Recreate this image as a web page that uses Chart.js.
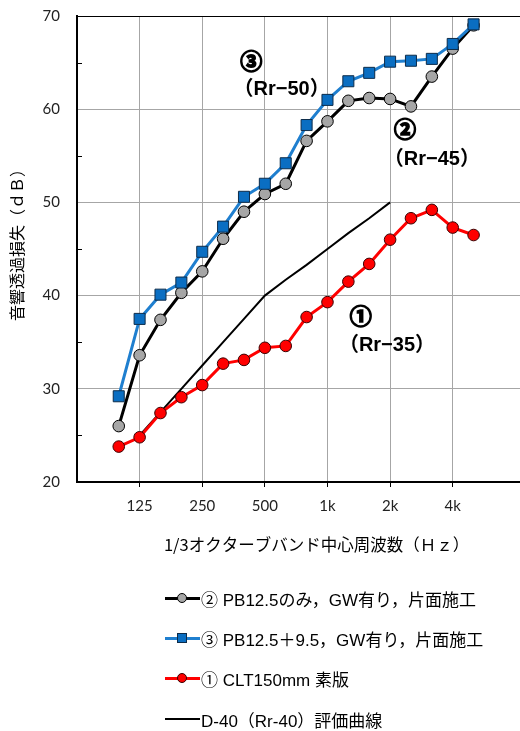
<!DOCTYPE html>
<html>
<head>
<meta charset="utf-8">
<script src="https://cdn.jsdelivr.net/npm/chart.js@4.4.1/dist/chart.umd.min.js"></script>
<style>
  html, body { margin: 0; padding: 0; background: #fff; width: 520px; height: 731px; overflow: hidden; }
  #wrap { position: absolute; left: 0; top: 0; width: 545px; height: 565px; }
  #legend { position: absolute; left: 0; top: 0; width: 520px; height: 731px; pointer-events: none; }
  .row { position: absolute; left: 165px; height: 22px; display: flex; align-items: center;
         font: 17px "Liberation Sans", "Noto Sans CJK JP", sans-serif; color: #000; white-space: pre; }
  .sample { position: relative; width: 35px; height: 22px; margin-right: 1px; flex: none; }
  .sample .ln { position: absolute; left: 0; right: 0; top: 9.5px; height: 3px; }
  .sample .mk { position: absolute; left: 12px; top: 6px; width: 8px; height: 8px; border: 1px solid #000; box-sizing: content-box; }
  .sample .mk.round { border-radius: 50%; }
</style>
</head>
<body>
<div id="wrap"><canvas id="chart"></canvas></div>
<div id="legend"></div>
<script>
// 1/3 octave band centre frequencies (x categories)
const bands = ['100','125','160','200','250','315','400','500','630','800','1k','1.25k','1.6k','2k','2.5k','3.15k','4k','5k'];
// bands that carry a tick label and a vertical grid line
const tickLabels = ['125','250','500','1k','2k','4k'];

// sound transmission loss per band, dB
const seriesPB125 = [26.0, 33.6, 37.4, 40.3, 42.6, 46.1, 49.0, 50.9, 52.0, 56.6, 58.7, 60.9, 61.2, 61.1, 60.3, 63.5, 66.5, 69.0];
const seriesPB125_95 = [29.2, 37.5, 40.1, 41.4, 44.7, 47.4, 50.6, 52.0, 54.2, 58.3, 61.0, 63.0, 63.9, 65.1, 65.2, 65.4, 67.0, 69.1];
const seriesCLT150 = [23.8, 24.8, 27.4, 29.1, 30.4, 32.7, 33.1, 34.4, 34.6, 37.7, 39.3, 41.5, 43.4, 46.0, 48.3, 49.2, 47.3, 46.5];
// D-40 rating curve, defined from 125 Hz to 2 kHz
const curveD40 = [null, 25, 27.5, 30, 32.5, 35, 37.5, 40, 41.7, 43.3, 45, 46.7, 48.3, 50, null, null, null, null];

const seriesNames = [
  '② PB12.5のみ，GW有り，片面施工',
  '③ PB12.5＋9.5，GW有り，片面施工',
  '① CLT150mm 素版',
  'D-40（Rr-40）評価曲線'
];

const axisTitleX = '1/3オクターブバンド中心周波数（Ｈｚ）';
const axisTitleY = '音響透過損失（ｄＢ）';

// in-plot rating notes: text, band position, dB position
const noteTexts = ['③', '（Rr−50）', '②', '（Rr−45）', '①', '（Rr−35）'];
const noteBand  = [6.35, 7.8, 13.72, 15.0, 11.6, 12.85];
const noteDb    = [65.2, 62.1, 57.9, 54.6, 37.9, 34.7];
const noteBig   = [true, false, true, false, true, false];

const toPoints = arr => arr.map((v, i) => ({ x: i, y: v }));

const GRID = '#a6a6a6';

const notesPlugin = {
  id: 'notes',
  afterDatasetsDraw(chart) {
    const { ctx, scales: { x, y } } = chart;
    ctx.save();
    ctx.fillStyle = '#000';
    ctx.strokeStyle = '#000';
    ctx.textAlign = 'center';
    ctx.textBaseline = 'middle';
    noteTexts.forEach((t, i) => {
      const px = x.getPixelForValue(noteBand[i]);
      const py = y.getPixelForValue(noteDb[i]);
      if (noteBig[i]) {
        ctx.font = 'bold 22px "Noto Sans CJK JP", sans-serif';
        ctx.lineWidth = 1.6;
        ctx.strokeText(t, px, py);
      } else {
        ctx.font = 'bold 20px "Liberation Sans", "Noto Sans CJK JP", sans-serif';
      }
      ctx.fillText(t, px, py);
    });
    ctx.restore();
  }
};

// short inward ticks on the dB axis at the 5 dB midpoints, and both axis titles
const axisExtrasPlugin = {
  id: 'axisExtras',
  afterDraw(chart) {
    const { ctx, chartArea, scales: { y } } = chart;
    ctx.save();
    ctx.strokeStyle = '#000';
    ctx.lineWidth = 1;
    for (let v = y.min + 5; v < y.max; v += 10) {
      const py = Math.round(y.getPixelForValue(v)) + 0.5;
      ctx.beginPath();
      ctx.moveTo(chartArea.left, py);
      ctx.lineTo(chartArea.left + 5, py);
      ctx.stroke();
    }
    ctx.fillStyle = '#000';
    ctx.textAlign = 'center';
    ctx.textBaseline = 'middle';
    ctx.font = '16.5px "Noto Sans CJK JP", sans-serif';
    ctx.fillText(axisTitleX, (chartArea.left + chartArea.right) / 2 + 10, chartArea.bottom + 63);
    ctx.translate(17, (chartArea.top + chartArea.bottom) / 2 - 8);
    ctx.rotate(-Math.PI / 2);
    ctx.font = '16px "Noto Sans CJK JP", sans-serif';
    ctx.fillText(axisTitleY, 0, 0);
    ctx.restore();
  }
};

const datasets = [
  {
    label: seriesNames[0], data: toPoints(seriesPB125), order: 3,
    borderColor: '#000', borderWidth: 3,
    pointStyle: 'circle', pointRadius: 5.8, pointBackgroundColor: '#a6a6a6',
    pointBorderColor: '#000', pointBorderWidth: 1
  },
  {
    label: seriesNames[1], data: toPoints(seriesPB125_95), order: 2,
    borderColor: '#1f7fcf', borderWidth: 3,
    pointStyle: 'rect', pointRadius: 7.8, pointBackgroundColor: '#0a6ec2',
    pointBorderColor: '#0d2c4a', pointBorderWidth: 1
  },
  {
    label: seriesNames[2], data: toPoints(seriesCLT150), order: 1,
    borderColor: '#ff0000', borderWidth: 3,
    pointStyle: 'circle', pointRadius: 5.8, pointBackgroundColor: '#ff0000',
    pointBorderColor: '#3a0000', pointBorderWidth: 1
  },
  {
    label: seriesNames[3], data: toPoints(curveD40), order: 4,
    borderColor: '#000', borderWidth: 2, pointRadius: 0, spanGaps: false
  }
];

Chart.defaults.font.family = 'Lato, "Liberation Sans", sans-serif';
Chart.defaults.color = '#222';

new Chart(document.getElementById('chart'), {
  type: 'line',
  data: { datasets },
  options: {
    responsive: true,
    maintainAspectRatio: false,
    devicePixelRatio: 1,
    animation: false,
    layout: { padding: { top: 16, left: 0, right: 2, bottom: 0 } },
    elements: { line: { tension: 0 } },
    plugins: { legend: { display: false }, tooltip: { enabled: false } },
    scales: {
      x: {
        type: 'linear',
        min: -2, max: 20,
        afterBuildTicks: s => { s.ticks = tickLabels.map(l => ({ value: bands.indexOf(l) })); },
        afterFit: s => { s.height = 83; s.paddingLeft = 0; s.paddingRight = 0; },
        ticks: {
          autoSkip: false, maxRotation: 0, padding: 10,
          font: { size: 15 }, color: '#222',
          callback: v => bands[v]
        },
        grid: { color: GRID, lineWidth: 1, drawTicks: true, tickLength: 5, tickColor: '#000', tickWidth: 1 },
        border: { display: true, color: '#000', width: 2 },
        title: { display: false }
      },
      y: {
        min: 20, max: 70,
        afterFit: s => { s.width = 77; s.paddingTop = 0; s.paddingBottom = 0; },
        ticks: { stepSize: 10, padding: 17, font: { size: 15 }, color: '#222' },
        grid: {
          drawTicks: false, lineWidth: 1,
          color: c => (c.tick && c.tick.value === 70 ? '#000' : GRID)
        },
        border: { display: true, color: '#000', width: 2 },
        title: { display: false }
      }
    }
  },
  plugins: [notesPlugin, axisExtrasPlugin]
});

// legend below the chart, one entry per row
const legendRowsY = [598, 638, 678, 719];
const legendLook = [
  { line: '#000', fill: '#a6a6a6', edge: '#000', shape: 'round' },
  { line: '#1f7fcf', fill: '#0a6ec2', edge: '#0d2c4a', shape: 'square' },
  { line: '#ff0000', fill: '#ff0000', edge: '#3a0000', shape: 'round' },
  { line: '#000', fill: null, edge: null, shape: null, thin: true }
];
const legend = document.getElementById('legend');
seriesNames.forEach((name, i) => {
  const look = legendLook[i];
  const row = document.createElement('div');
  row.className = 'row';
  row.style.top = (legendRowsY[i] - 11) + 'px';
  const sample = document.createElement('div');
  sample.className = 'sample';
  const ln = document.createElement('div');
  ln.className = 'ln';
  ln.style.background = look.line;
  if (look.thin) { ln.style.height = '2px'; ln.style.top = '10px'; }
  sample.appendChild(ln);
  if (look.fill) {
    const mk = document.createElement('div');
    mk.className = 'mk' + (look.shape === 'round' ? ' round' : '');
    mk.style.background = look.fill;
    mk.style.borderColor = look.edge;
    sample.appendChild(mk);
  }
  row.appendChild(sample);
  const label = document.createElement('span');
  label.textContent = name;
  row.appendChild(label);
  legend.appendChild(row);
});
</script>
</body>
</html>
